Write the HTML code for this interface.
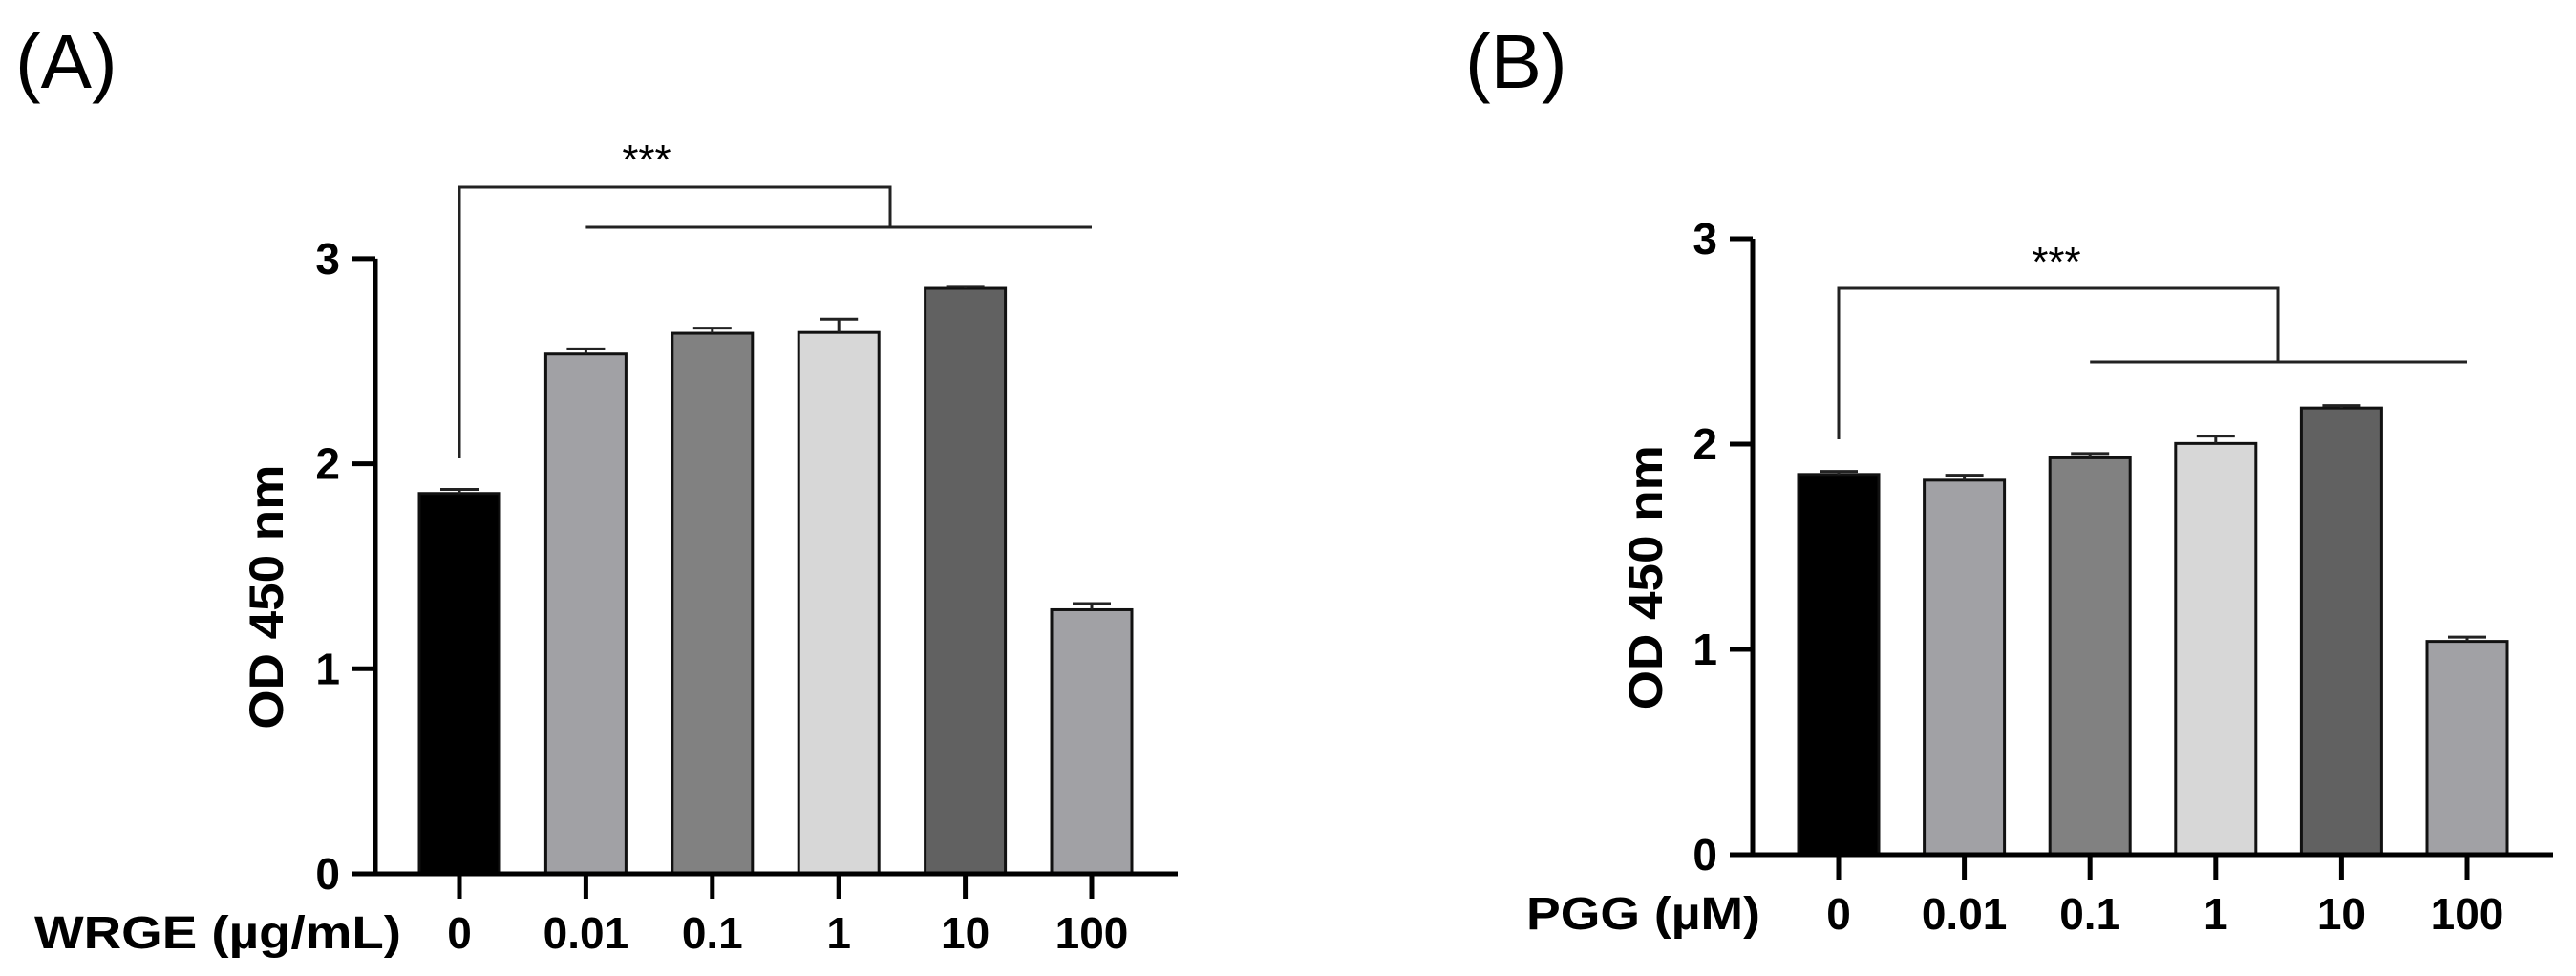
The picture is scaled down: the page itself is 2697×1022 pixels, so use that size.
<!DOCTYPE html>
<html><head><meta charset="utf-8">
<style>
html,body{margin:0;padding:0;background:#fff;}
svg{display:block;font-family:"Liberation Sans",Arial,sans-serif;}
</style></head>
<body>
<svg id="fig" width="2697" height="1022" viewBox="0 0 2697 1022" xmlns="http://www.w3.org/2000/svg">
<rect width="2697" height="1022" fill="#fff"/>
</svg>
<script>
const categories = ["0","0.01","0.1","1","10","100"];
const valuesA = [1.855, 2.535, 2.636, 2.64, 2.855, 1.288];
const errorsA = [0.02, 0.025, 0.025, 0.065, 0.01, 0.03];
const valuesB = [1.852, 1.824, 1.933, 2.003, 2.176, 1.039];
const errorsB = [0.015, 0.024, 0.021, 0.036, 0.012, 0.021];
const yTicks = [0, 1, 2, 3];
const barColors = ["#000000","#a1a1a5","#818181","#d7d7d7","#616161","#a1a1a5"];

const NS = "http://www.w3.org/2000/svg";
const svg = document.getElementById('fig');
function mk(tag, attrs, parent){
  const e = document.createElementNS(NS, tag);
  for (const k in attrs) e.setAttribute(k, attrs[k]);
  (parent||svg).appendChild(e);
  return e;
}

function panel(cfg, values, errors){
  const g = mk('g', {});
  
  
  const y = v => cfg.y0 - v * cfg.unit;
  const x = i => cfg.x0 + i * cfg.step;

  const lt = mk('text', {x: cfg.letterX, y: 92, 'font-size': 80}, g);
  lt.textContent = cfg.letter;
  
  

  values.forEach((v, i) => {
    const cx = x(i);
    const r = mk('rect', {x: cx - 42, y: y(v), width: 84, height: cfg.y0 - y(v), fill: barColors[i], stroke: '#111', 'stroke-width': 3}, g);
    
    
    const top = y(v + errors[i]);
    const eb = mk('path', {d: `M${cx} ${y(v)} V${top} M${cx-20} ${top} H${cx+20}`, stroke: '#222', 'stroke-width': 3, fill: 'none'}, g);
    
    
  });

  const ya = mk('line', {x1: cfg.ax, y1: y(3), x2: cfg.ax, y2: cfg.y0 + 2, stroke: '#000', 'stroke-width': 5}, g);
  
  
  yTicks.forEach(t => {
    const tk = mk('line', {x1: cfg.ax - 24, y1: y(t), x2: cfg.ax, y2: y(t), stroke: '#000', 'stroke-width': 5}, g);
    
    
    const tl = mk('text', {x: cfg.ax - 37, y: y(t) + 16, 'font-size': 46, 'font-weight': 'bold', 'text-anchor': 'end'}, g);
    tl.textContent = t;
    
    
  });
  const xa = mk('line', {x1: cfg.ax - 24, y1: cfg.y0, x2: cfg.axEnd, y2: cfg.y0, stroke: '#000', 'stroke-width': 5}, g);
  
  
  categories.forEach((c, i) => {
    const tk = mk('line', {x1: x(i), y1: cfg.y0, x2: x(i), y2: cfg.y0 + 26, stroke: '#000', 'stroke-width': 5}, g);
    
    
    const tl = mk('text', {x: x(i), y: cfg.y0 + 78, 'font-size': 46, 'font-weight': 'bold', 'text-anchor': 'middle'}, g);
    tl.textContent = c;
    
    
  });
  const xl = mk('text', {x: cfg.xLabelX, y: cfg.y0 + 78, 'font-size': 48, 'font-weight': 'bold', textLength: cfg.xLabelW, lengthAdjust: 'spacingAndGlyphs'}, g);
  xl.textContent = cfg.xLabel;
  
  
  const yl = mk('text', {x: 0, y: 0, 'font-size': 50, 'font-weight': 'bold', 'text-anchor': 'middle', textLength: 277, lengthAdjust: 'spacingAndGlyphs', transform: `translate(${cfg.yTitleX},${y(1.35)}) rotate(-90)`}, g);
  yl.textContent = 'OD 450 nm';
  
  

  const br = mk('path', {d: `M${x(0)} ${cfg.brLeftBottom} V${cfg.brTop} H${cfg.brRightX} V${cfg.brLineY} M${x(cfg.lineStart)} ${cfg.brLineY} H${x(5)}`, stroke: '#222', 'stroke-width': 3, fill: 'none'}, g);
  
  
  const st = mk('text', {x: cfg.starX, y: cfg.starY + 20, 'font-size': 44, 'text-anchor': 'middle'}, g);
  st.textContent = '***';
  
  
}

panel({id:'a', letter:'(A)', letterX:16, x0:481, step:132.4, y0:915, unit:214.7, ax:393, axEnd:1233,
  xLabel:'WRGE (µg/mL)', xLabelX:36, xLabelW:384, yTitleX:296,
  brLeftBottom:480, brTop:196, brRightX:932, brLineY:238, lineStart:1, starX:677, starY:162}, valuesA, errorsA);
panel({id:'b', letter:'(B)', letterX:1534, x0:1925, step:131.6, y0:895, unit:215, ax:1835, axEnd:2673,
  xLabel:'PGG (µM)', xLabelX:1598, xLabelW:245, yTitleX:1740,
  brLeftBottom:460, brTop:302, brRightX:2385, brLineY:379, lineStart:2, starX:2153, starY:269}, valuesB, errorsB);
</script>
</body></html>
